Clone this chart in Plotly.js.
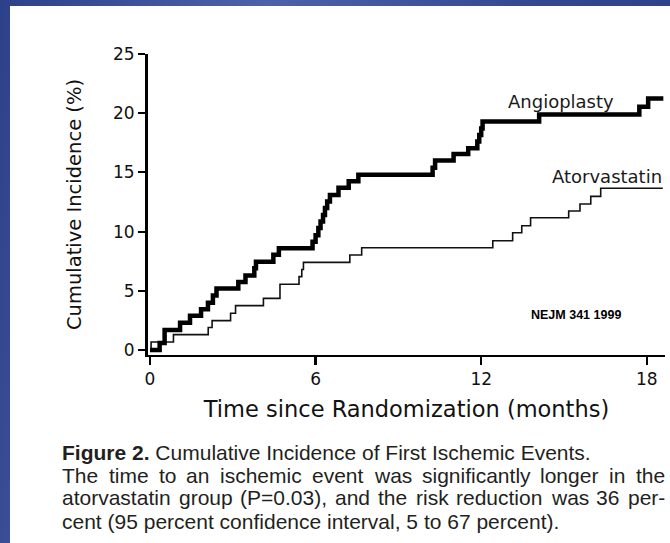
<!DOCTYPE html>
<html><head><meta charset="utf-8">
<script src="https://cdn.plot.ly/plotly-3.0.1.min.js"></script>
<style>
html,body{margin:0;padding:0;width:670px;height:543px;overflow:hidden;
  background:linear-gradient(100deg,#2c4189 0%,#4d62a8 35%,#33488f 70%,#2a3f86 100%);}
#chart{position:absolute;left:10px;top:6px;width:660px;height:537px;}
</style></head><body><div id="chart"></div>
<script>
// ---- data ----
const angioMonths = [0, 0.35, 0.53, 1.09, 1.45, 1.85, 2.1, 2.28, 2.41, 3.2, 3.46, 3.78, 3.84, 4.47, 4.67,
  5.89, 6.0, 6.1, 6.18, 6.27, 6.34, 6.42, 6.52, 6.83, 7.2, 7.55, 10.24, 10.33, 11.0, 11.53, 11.86, 11.93, 12.0, 12.05,
  14.1, 17.73, 18.05, 18.6];
const angioIncidence = [0, 0.6, 1.7, 2.3, 2.9, 3.45, 4.0, 4.6, 5.2, 5.75, 6.3, 6.9, 7.45, 8.05, 8.6,
  9.15, 9.7, 10.3, 10.85, 11.4, 12.0, 12.55, 13.1, 13.7, 14.25, 14.8, 15.4, 16.0, 16.55, 17.05, 17.6, 18.15, 18.7, 19.3,
  19.9, 20.55, 21.25, 21.25];
const atorMonths = [0, 0.04, 0.85, 2.11, 2.25, 2.92, 3.1, 4.11, 4.71, 5.4, 5.5, 5.56, 7.24, 7.67,
  12.42, 13.14, 13.47, 13.79, 15.17, 15.58, 15.97, 16.33, 18.58];
const atorIncidence = [0, 0.68, 1.3, 1.9, 2.48, 3.1, 3.75, 4.36, 5.55, 6.2, 6.8, 7.4, 8.02, 8.64,
  9.23, 9.91, 10.5, 11.17, 11.74, 12.33, 12.98, 13.66, 13.66];
const xTickVals = [0, 6, 12, 18];
const yTickVals = [0, 5, 10, 15, 20, 25];
const seriesNames = ['Angioplasty', 'Atorvastatin'];
const xTitle = 'Time since Randomization (months)';
const yTitle = 'Cumulative Incidence (%)';
const sourceNote = 'NEJM 341 1999';
const captionHead = '<b>Figure 2.</b> Cumulative Incidence of First Ischemic Events.';
const captionJustified = [
  'The time to an ischemic event was significantly longer in the',
  'atorvastatin group (P=0.03), and the risk reduction was 36 per-'
];
const captionLast = 'cent (95 percent confidence interval, 5 to 67 percent).';

// ---- layout helpers (page pixel -> paper fraction) ----
const PA = {left:148, right:665, top:54, bottom:355};
const W = PA.right - PA.left, H = PA.bottom - PA.top;
const px = x => (x - PA.left) / W;
const py = y => (PA.bottom - y) / H;

const chartFont = 'DejaVu Sans, Verdana, sans-serif';
const capFont = 'Liberation Sans, Arial, sans-serif';
const capSize = 21;
const capColor = '#231f20';

const traces = [
  {x: atorMonths, y: atorIncidence, name: seriesNames[1], type: 'scatter', mode: 'lines',
   line: {shape: 'hv', color: '#111', width: 1.6}},
  {x: angioMonths, y: angioIncidence, name: seriesNames[0], type: 'scatter', mode: 'lines',
   line: {shape: 'hv', color: '#000', width: 4.5}}
];

const annotations = [
  {text: seriesNames[0], x: px(561), y: py(101), xref: 'paper', yref: 'paper', xanchor: 'center', yanchor: 'middle',
   showarrow: false, font: {family: chartFont, size: 18, color: '#1a1a1a'}},
  {text: seriesNames[1], x: px(664), y: py(176), xref: 'paper', yref: 'paper', xanchor: 'right', yanchor: 'middle',
   showarrow: false, font: {family: chartFont, size: 18, color: '#1a1a1a'}},
  {text: '<b>' + sourceNote + '</b>', x: px(576), y: py(315), xref: 'paper', yref: 'paper', xanchor: 'center', yanchor: 'middle',
   showarrow: false, font: {family: capFont, size: 12.5, color: '#000'}},
  {text: captionHead, x: px(61), y: py(452), xref: 'paper', yref: 'paper', xanchor: 'left', yanchor: 'middle',
   showarrow: false, borderpad: 0, font: {family: capFont, size: capSize, color: capColor}},
  {text: captionLast, x: px(61), y: py(521), xref: 'paper', yref: 'paper', xanchor: 'left', yanchor: 'middle',
   showarrow: false, borderpad: 0, font: {family: capFont, size: capSize, color: capColor}}
];

// justified caption lines: place words with measured widths
const cvs = document.createElement('canvas').getContext('2d');
cvs.font = capSize + 'px "Liberation Sans", Arial, sans-serif';
const lineYs = [475, 498];
captionJustified.forEach((line, i) => {
  const words = line.split(' ');
  const widths = words.map(w => cvs.measureText(w).width);
  const total = widths.reduce((a, b) => a + b, 0);
  const left = 62, right = 665;
  const gap = Math.max((right - left - total) / (words.length - 1), cvs.measureText(' ').width * 0.8);
  let cx = left;
  words.forEach((w, k) => {
    annotations.push({text: w, x: px(cx - 1), y: py(lineYs[i]), xref: 'paper', yref: 'paper',
      xanchor: 'left', yanchor: 'middle', showarrow: false, borderpad: 0,
      font: {family: capFont, size: capSize, color: capColor}});
    cx += widths[k] + gap;
  });
});

const layout = {
  width: 660, height: 537,
  margin: {l: PA.left - 10, r: 670 - PA.right, t: PA.top - 6, b: 543 - PA.bottom},
  paper_bgcolor: '#ffffff', plot_bgcolor: '#ffffff',
  showlegend: false,
  font: {family: chartFont, color: '#111'},
  xaxis: {
    range: [-0.072, 18.66], tickvals: xTickVals, ticktext: xTickVals.map(String),
    showgrid: false, zeroline: false, showline: true, linecolor: '#000', linewidth: 2,
    ticks: 'outside', ticklen: 8, tickwidth: 2.5, tickcolor: '#000',
    tickfont: {family: chartFont, size: 17, color: '#111'},
    title: {text: xTitle, font: {family: chartFont, size: 22.5, color: '#111'}, standoff: 13}
  },
  yaxis: {
    range: [-0.42, 25], tickvals: yTickVals, ticktext: yTickVals.map(String),
    showgrid: false, zeroline: false, showline: true, linecolor: '#000', linewidth: 3,
    ticks: 'outside', ticklen: 7, tickwidth: 2, tickcolor: '#000',
    tickfont: {family: chartFont, size: 17, color: '#111'},
    title: {text: yTitle, font: {family: chartFont, size: 19.5, color: '#111'}, standoff: 27}
  },
  annotations: annotations
};

Plotly.newPlot('chart', traces, layout, {displayModeBar: false, staticPlot: true});
</script></body></html>
